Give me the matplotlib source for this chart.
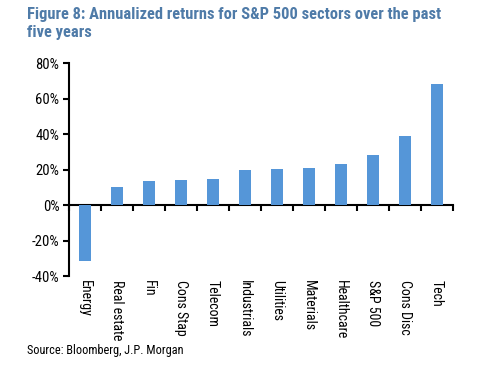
import numpy as np
import matplotlib.pyplot as plt
from matplotlib import font_manager

sectors = ["Energy", "Real estate", "Fin", "Cons Stap", "Telecom", "Industrials",
           "Utilities", "Materials", "Healthcare", "S&P 500", "Cons Disc", "Tech"]
returns = [-31.5, 10.2, 13.6, 14.2, 14.7, 20.0, 20.2, 20.6, 23.0, 28.3, 38.9, 68.4]
yticks = [-40, -20, 0, 20, 40, 60, 80]

# pick a narrow Arial-like face if one is there
names = {f.name for f in font_manager.fontManager.ttflist}
narrow = next((n for n in ["Liberation Sans Narrow", "Arial Narrow", "Roboto Condensed",
                           "Archivo Narrow", "PT Sans Narrow", "Liberation Sans"] if n in names),
              "DejaVu Sans")
plt.rcParams['font.family'] = [narrow, 'DejaVu Sans']

fig = plt.figure(figsize=(5, 3.71), dpi=100)
ax = fig.add_axes([0.138, 0.256, 0.768, 0.574])

x = np.arange(len(sectors))
ax.bar(x, returns, width=0.4, color='#5596D8')

ax.set_xlim(-0.5, len(sectors) - 0.5)
ax.set_ylim(-40, 80)
ax.set_yticks(yticks)
ax.set_yticklabels([f"{v}%" for v in yticks], fontsize=10.5)
ax.tick_params(axis='y', length=4, width=1.5, direction='out', pad=3)

ax.set_xticks(x)
ax.set_xticklabels(sectors, rotation=270, fontsize=10, va='top', ha='center')
ax.tick_params(axis='x', length=0, pad=3)

for s in ['top', 'right', 'bottom']:
    ax.spines[s].set_visible(False)
ax.spines['left'].set_linewidth(1.5)

# zero line with boundary ticks
zero = ax.secondary_xaxis(40 / 120)
zero.set_xticks(np.arange(-0.5, len(sectors), 1.0))
zero.set_xticklabels([])
zero.tick_params(length=4, width=1.5, direction='out')
zero.spines['bottom'].set_linewidth(1.5)

title = fig.text(0.054, 0.98, "Figure 8: Annualized returns for S&P 500 sectors over the past\nfive years",
                 fontsize=13, fontweight='bold', color='#4F7BA8', va='top', ha='left', linespacing=1.2)
source = fig.text(0.054, 0.055, "Source: Bloomberg, J.P. Morgan", fontsize=10, color='black',
                  va='center', ha='left')

# shrink texts to the widths seen in the reference
r = fig.canvas.get_renderer()
for t, w in [(title, 413), (source, 156)]:
    cur = t.get_window_extent(r).width
    if cur > w:
        t.set_fontsize(t.get_fontsize() * w / cur)

fig.savefig('out.png', dpi=100)
